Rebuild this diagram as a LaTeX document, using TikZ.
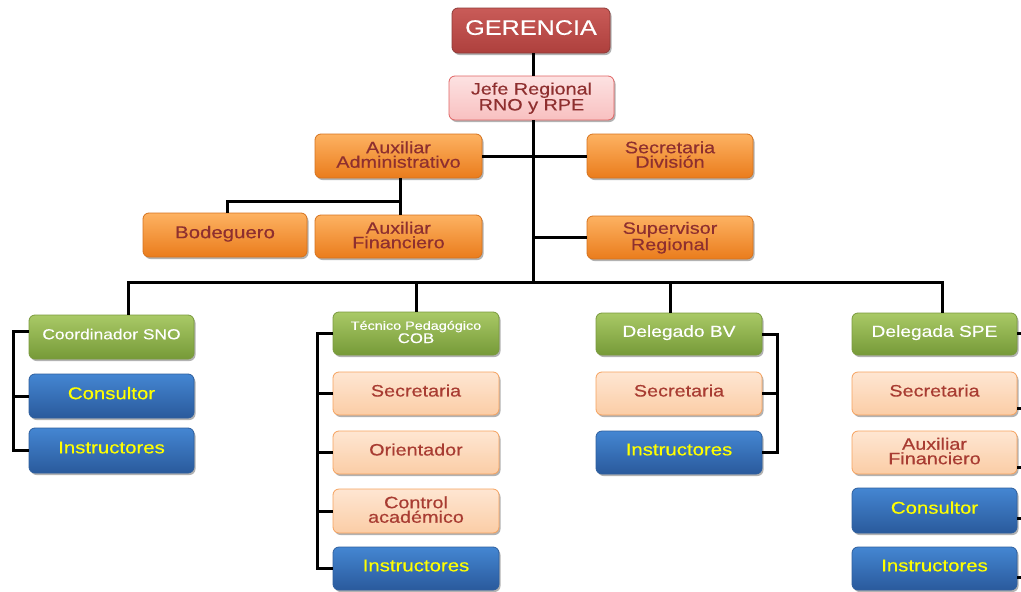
\documentclass[tikz,border=0pt]{standalone}
\usepackage{fontspec}
\setmainfont[FakeStretch=1.2,FakeBold=0.4]{Liberation Sans}
\usetikzlibrary{shadows}
\definecolor{gerTop}{HTML}{C95B58}
\definecolor{gerBot}{HTML}{AE403D}
\definecolor{gerBor}{HTML}{8E3B38}
\definecolor{jefTop}{HTML}{FDE2E2}
\definecolor{jefBot}{HTML}{F8C0C0}
\definecolor{jefBor}{HTML}{E06464}
\definecolor{redTxt}{HTML}{8E2F2F}
\definecolor{orTop}{HTML}{FDB262}
\definecolor{orBot}{HTML}{EA7C1C}
\definecolor{orBor}{HTML}{D6731E}
\definecolor{peTop}{HTML}{FEE6D2}
\definecolor{peBot}{HTML}{FBCDA6}
\definecolor{peBor}{HTML}{F6A25E}
\definecolor{peTxt}{HTML}{A83C32}
\definecolor{grTop}{HTML}{A9C966}
\definecolor{grBot}{HTML}{769A38}
\definecolor{grBor}{HTML}{7A9A3E}
\definecolor{blTop}{HTML}{4486D2}
\definecolor{blBot}{HTML}{2A5A9C}
\definecolor{blBor}{HTML}{2E5F9E}
\definecolor{ylTxt}{HTML}{FFFF00}
\begin{document}
\begin{tikzpicture}[x=1pt,y=-1pt,
  box/.style={rounded corners=6pt, minimum width=166pt, minimum height=43pt,
    inner sep=2pt, align=center, line width=0.8pt, text depth=6pt,
    font=\fontsize{16.5}{14.5}\selectfont,
    drop shadow={shadow xshift=1.5pt, shadow yshift=-2pt, opacity=0.3, fill=black}},
  two/.style={text depth=3pt},
  gerbox/.style={box, top color=gerTop, bottom color=gerBot, draw=gerBor, text=white,
    font=\fontsize{21}{21}\selectfont},
  jefbox/.style={box, top color=jefTop, bottom color=jefBot, draw=jefBor, text=redTxt},
  orbox/.style={box, top color=orTop, bottom color=orBot, draw=orBor, text=redTxt},
  pebox/.style={box, top color=peTop, bottom color=peBot, draw=peBor, text=peTxt},
  grbox/.style={box, top color=grTop, bottom color=grBot, draw=grBor, text=white,
    font=\fontsize{16}{14}\selectfont},
  blbox/.style={box, top color=blTop, bottom color=blBot, draw=blBor, text=ylTxt,
    font=\fontsize{17}{15}\selectfont},
  link/.style={line width=3pt, black}]
\fill[white] (0,0) rectangle (1021,592);
\useasboundingbox (0,0) rectangle (1021,592);

% top
\node[gerbox, minimum width=158pt, minimum height=45pt] (ger) at (531,30.5) {GERENCIA};
\node[jefbox, two, minimum width=165pt, minimum height=44pt] (jefe) at (531.5,98) {Jefe Regional\\RNO y RPE};
\node[orbox, two, minimum width=167pt, minimum height=44pt] (auxadm) at (398.5,156) {Auxiliar\\Administrativo};
\node[orbox, two, minimum height=44pt] (secdiv) at (670,156) {Secretaria\\División};
\node[orbox, minimum width=164pt, minimum height=44pt, font=\fontsize{17}{15}\selectfont] (bode) at (225,235) {Bodeguero};
\node[orbox, two, minimum width=167pt] (auxfin) at (398.5,236.5) {Auxiliar\\Financiero};
\node[orbox, two] (super) at (670,237.5) {Supervisor\\Regional};

% column 1
\node[grbox, minimum width=165pt, minimum height=44pt, font=\fontsize{14.5}{14}\selectfont] (coord) at (111.5,337) {Coordinador SNO};
\node[blbox, minimum width=165pt, minimum height=44pt] (cons1) at (111.5,396) {Consultor};
\node[blbox, minimum width=165pt, minimum height=45pt] (inst1) at (111.5,450.5) {Instructores};

% column 2
\node[grbox, two, font=\fontsize{12}{11}\selectfont] (tec) at (416,333.5) {Técnico Pedagógico\\{\fontsize{14}{11}\selectfont COB}};
\node[pebox] (sec2) at (416,393.5) {Secretaria};
\node[pebox] (orient) at (416,452.5) {Orientador};
\node[pebox, two, minimum height=44pt] (control) at (416,511) {Control\\académico};
\node[blbox] (inst2) at (416,568.5) {Instructores};

% column 3
\node[grbox, minimum height=42pt] (delbv) at (679,334) {Delegado BV};
\node[pebox] (sec3) at (679,393.5) {Secretaria};
\node[blbox] (inst3) at (679,452.5) {Instructores};

% column 4
\node[grbox, minimum width=165pt, minimum height=42pt] (delspe) at (934.5,334) {Delegada SPE};
\node[pebox, minimum width=165pt] (sec4) at (934.5,393.5) {Secretaria};
\node[pebox, two, minimum width=165pt] (auxfin4) at (934.5,452.5) {Auxiliar\\Financiero};
\node[blbox, minimum width=165pt, minimum height=45pt] (cons4) at (934.5,510.5) {Consultor};
\node[blbox, minimum width=165pt] (inst4) at (934.5,568.5) {Instructores};

% connectors: spine
\coordinate (sp) at (533,0);
\coordinate (busc) at (533,282);
\draw[link] (ger.south -| sp) -- (jefe.north -| sp);
\draw[link] (jefe.south -| sp) -- (busc);
\draw[link] (auxadm.east) -- (auxadm.east -| sp);
\draw[link] (secdiv.west) -- (secdiv.west -| sp);
\draw[link] (super.west) -- (super.west -| sp);
% auxiliar administrativo branch
\coordinate (j1) at (400,201);
\coordinate (bj) at (227,201);
\draw[link] (auxadm.south -| j1) -- (auxfin.north -| j1);
\draw[link] (bode.north -| bj) -- (bj) -- (j1);
% bus
\coordinate (b1) at (128,282);
\coordinate (b2) at (416,282);
\coordinate (b3) at (670,282);
\coordinate (b4) at (942,282);
\draw[link] (b1 |- coord.north) -- (b1) -- (b4) -- (b4 |- delspe.north);
\draw[link] (b2) -- (tec.north);
\draw[link] (b3) -- (b3 |- delbv.north);
% column 1 bracket
\coordinate (l1) at (13,0);
\draw[link] ([yshift=6pt]coord.west) -- ([yshift=6pt]coord.west -| l1) |- (inst1.west);
\draw[link] (cons1.west) -- (cons1.west -| l1);
% column 2 bracket
\coordinate (l2) at (317,0);
\draw[link] (tec.west) -- (tec.west -| l2) |- (inst2.west);
\draw[link] (sec2.west) -- (sec2.west -| l2);
\draw[link] (orient.west) -- (orient.west -| l2);
\draw[link] (control.west) -- (control.west -| l2);
% column 3 bracket
\coordinate (l3) at (777,0);
\draw[link] (delbv.east) -- (delbv.east -| l3) |- (inst3.east);
\draw[link] (sec3.east) -- (sec3.east -| l3);
% column 4 ticks (bracket beyond the edge)
\coordinate (e1) at (1024,333);
\coordinate (e2) at (1024,408);
\coordinate (e3) at (1024,467);
\coordinate (e4) at (1024,518);
\coordinate (e5) at (1024,577);
\draw[link] (delspe.east |- e1) -- (e1);
\draw[link] (sec4.east |- e2) -- (e2);
\draw[link] (auxfin4.east |- e3) -- (e3);
\draw[link] (cons4.east |- e4) -- (e4);
\draw[link] (inst4.east |- e5) -- (e5);
\end{tikzpicture}
\end{document}
